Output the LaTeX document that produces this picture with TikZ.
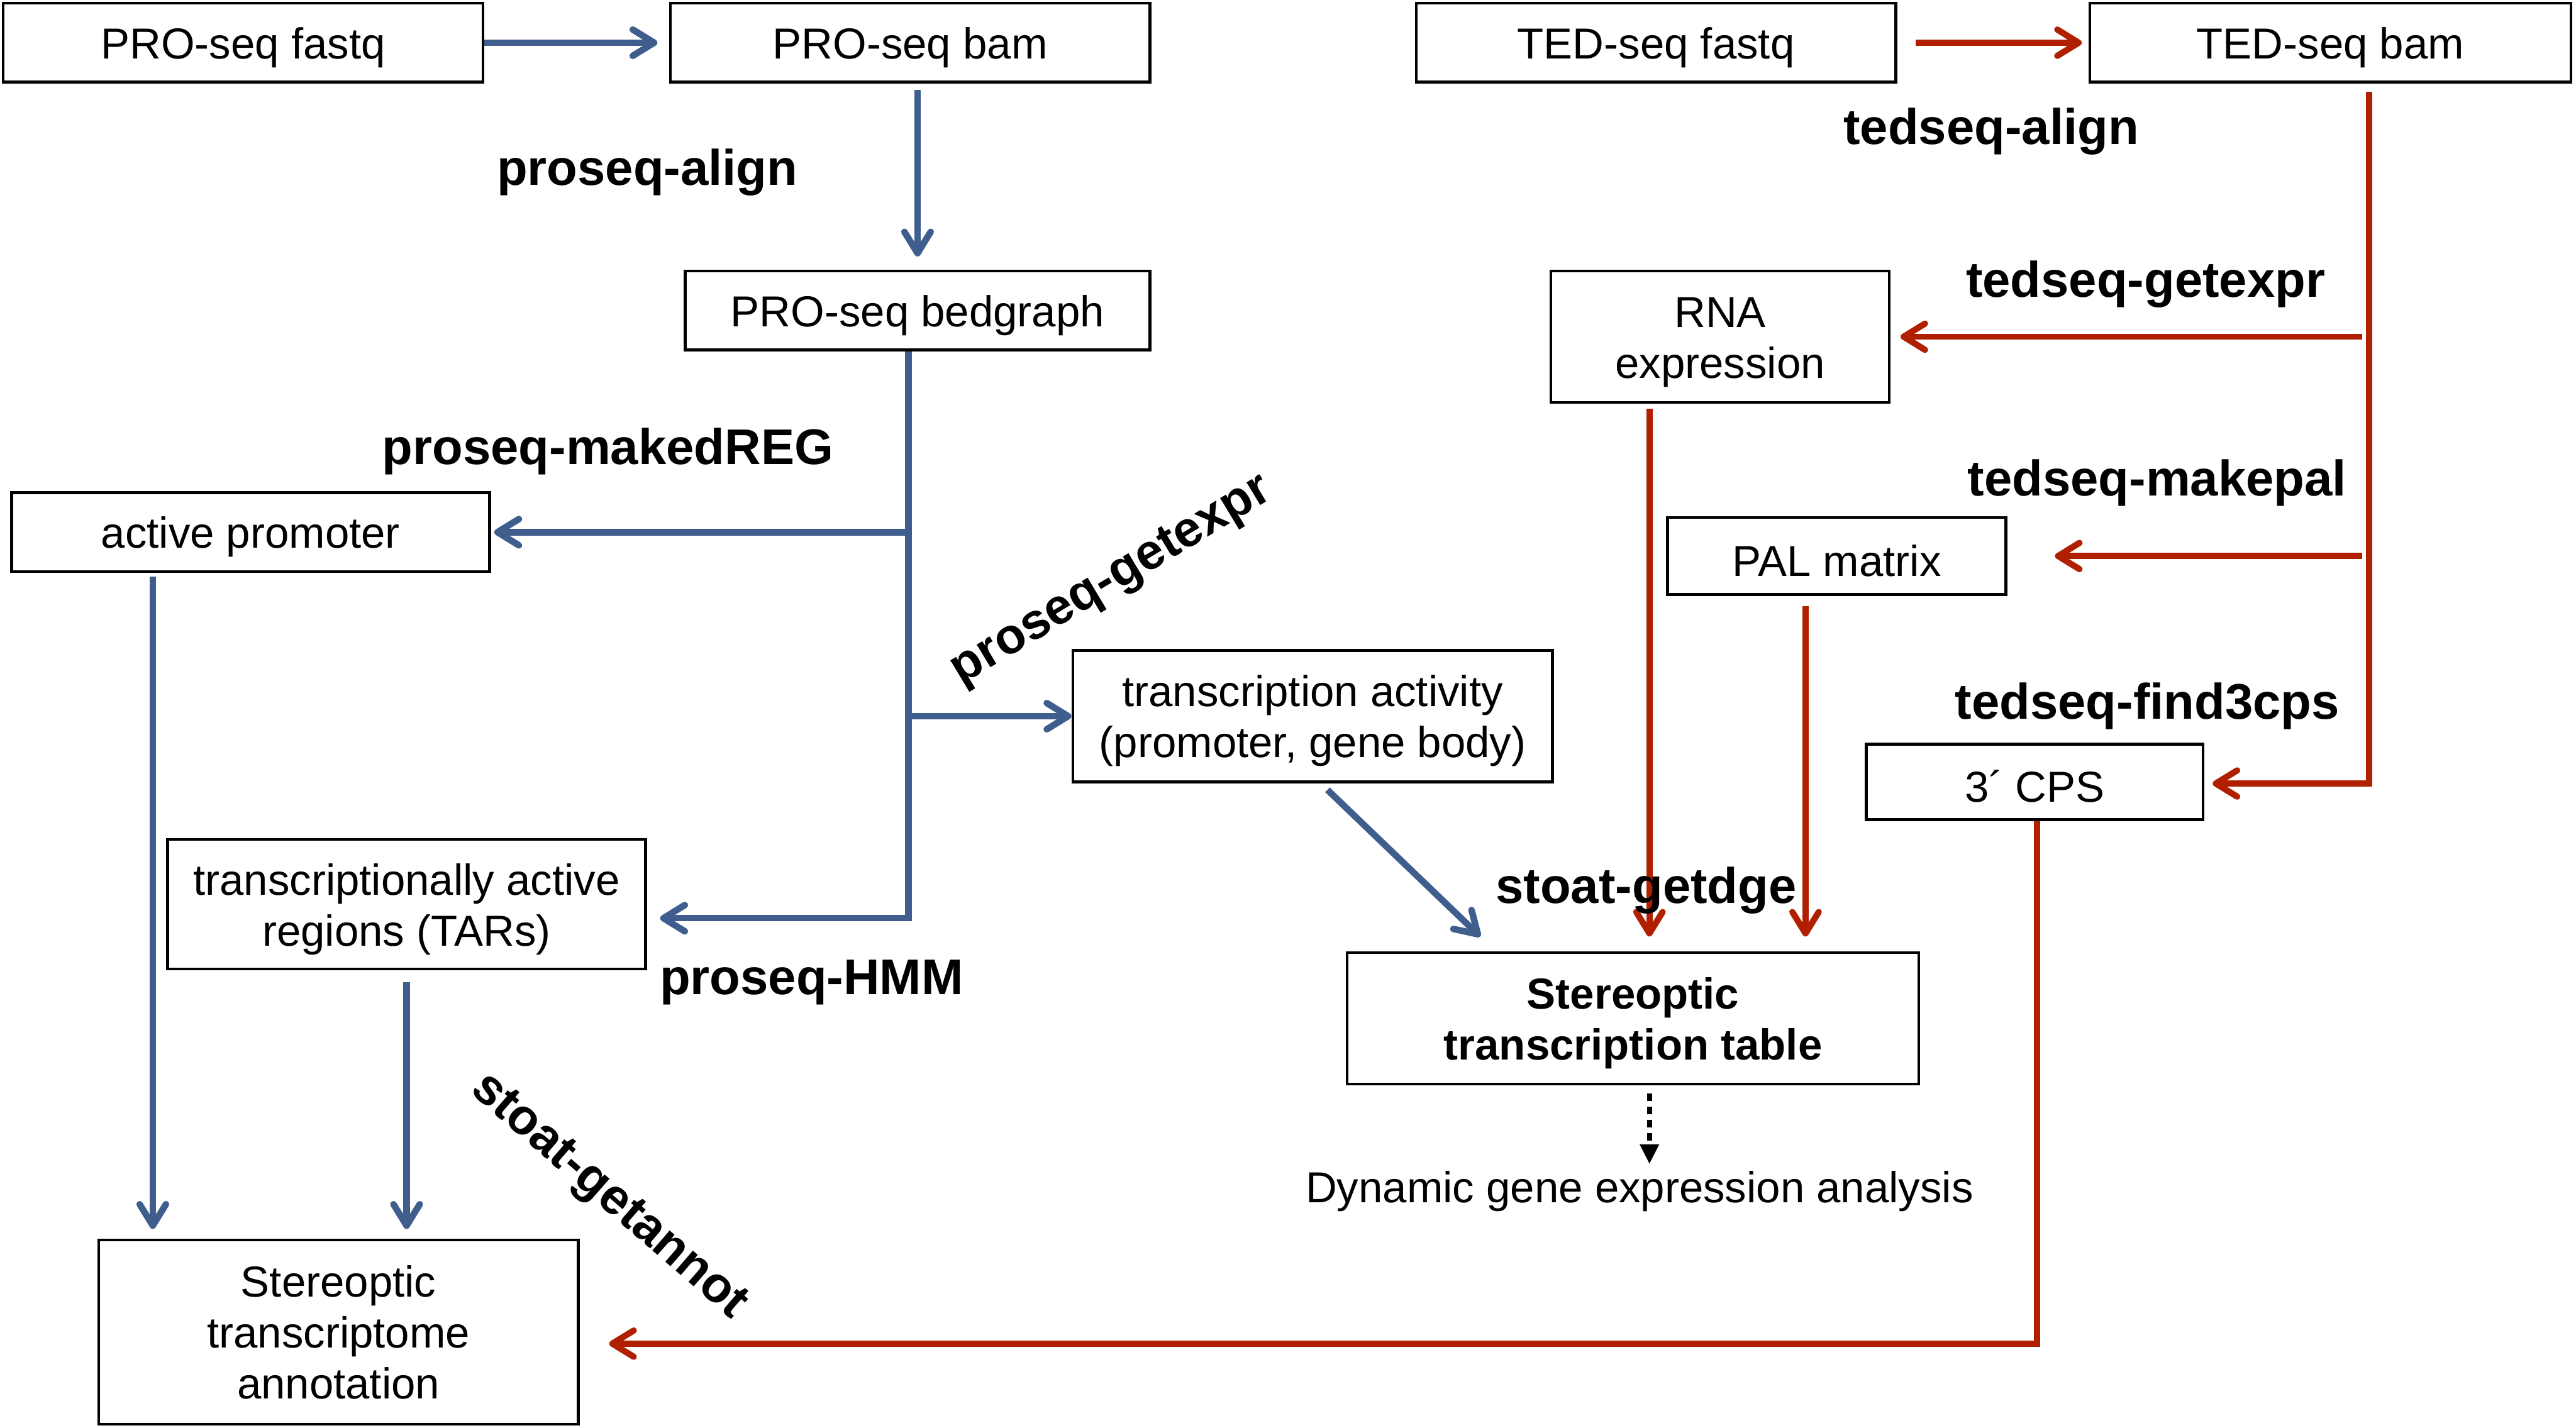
\documentclass[tikz,border=0pt]{standalone}
\usepackage{fontspec}
\setmainfont{Liberation Sans}
\usetikzlibrary{arrows.meta}

\definecolor{problue}{RGB}{63,94,141}
\definecolor{tedred}{RGB}{176,32,0}
\newcommand{\tallstrut}{\rule{0pt}{25pt}}

\begin{document}
\begin{tikzpicture}[x=1pt,y=-1pt,
  box/.style={draw,line width=1.7pt,inner sep=0pt,align=center,
    font=\fontsize{26.4}{31}\selectfont},
  tool/.style={inner sep=0pt,font=\fontsize{30.5}{34}\selectfont\bfseries},
  pro/.style={draw=problue,line width=4pt,
    -{Straight Barb[length=13pt,width=16pt,round]}},
  ted/.style={draw=tedred,line width=3.8pt,
    -{Straight Barb[length=13pt,width=16pt,round]}}]
\useasboundingbox (0,0) rectangle (1568,869);

% PRO-seq side
\node[box,minimum width=292,minimum height=48] (pfq) at (148,26) {\tallstrut PRO-seq fastq};
\node[box,minimum width=292,minimum height=48] (pbam) at (554,26) {\tallstrut PRO-seq bam};
\node[box,minimum width=283,minimum height=48] (pbed) at (558.5,189) {\tallstrut PRO-seq bedgraph};
\node[box,minimum width=291,minimum height=48] (prom) at (152.5,324) {\tallstrut active promoter};
\node[box,minimum width=292,minimum height=80] (act) at (799,436) {\tallstrut transcription activity\\(promoter, gene body)};
\node[box,minimum width=291,minimum height=79] (tar) at (247.5,550.5) {\tallstrut transcriptionally active\\regions (TARs)};
\node[box,minimum width=292,minimum height=112] (annot) at (206,811) {Stereoptic\\transcriptome\\annotation};

% TED-seq side
\node[box,minimum width=292,minimum height=48] (tfq) at (1008,26) {\tallstrut TED-seq fastq};
\node[box,minimum width=293,minimum height=48] (tbam) at (1418.5,26) {\tallstrut TED-seq bam};
\node[box,minimum width=206,minimum height=80] (rna) at (1047,205) {\tallstrut RNA\\expression};
\node[box,minimum width=206,minimum height=47] (pal) at (1118,338.5) {\tallstrut PAL matrix};
\node[box,minimum width=205,minimum height=46] (cps) at (1238.5,476) {\tallstrut 3´ CPS};
\node[box,minimum width=348,minimum height=80,
  font=\fontsize{26.4}{31}\selectfont\bfseries] (table) at (994,620) {\tallstrut Stereoptic\\transcription table};
\node[inner sep=0pt,anchor=base,font=\fontsize{26.4}{31}\selectfont] (dyn) at (998,732) {Dynamic gene expression analysis};

\coordinate (pbot) at (553,559);
\coordinate (tbot) at (1442,477);
\coordinate (cbot) at (1240,818);
\coordinate (dtop) at ([xshift=10pt]table.south);

% blue connectors
\draw[pro,shorten >=7pt] (pfq.east) -- (pbam.west);
\draw[pro,shorten <=4pt,shorten >=8pt] (pbed.north |- pbam.south) -- (pbed.north);
\draw[pro,shorten >=8pt] (pbed.south -| pbot) -- (pbot) -- (tar.east |- pbot);
\draw[pro,shorten >=2pt] (prom.east -| pbot) -- (prom.east);
\draw[pro] (act.west -| pbot) -- (act.west);
\draw[pro,shorten <=2pt,shorten >=6pt] ([xshift=-59.5pt]prom.south) -- ([xshift=-59.5pt]prom.south |- annot.north);
\draw[pro,shorten <=7pt,shorten >=6pt] (tar.south) -- (tar.south |- annot.north);
\draw[pro] ([xshift=9pt,yshift=-4pt]act.south) -- ([xshift=-93pt,yshift=9pt]table.north);

% red connectors
\draw[ted,shorten <=11pt,shorten >=4pt] (tfq.east) -- (tbam.west);
\draw[ted,shorten <=5pt,shorten >=5pt] (tbam.south -| tbot) -- (tbot) -- (cps.east |- tbot);
\draw[ted,shorten <=4pt,shorten >=6pt] (rna.east -| tbot) -- (rna.east);
\draw[ted,shorten <=4pt,shorten >=29pt] (pal.east -| tbot) -- (pal.east);
\draw[ted,shorten <=3pt,shorten >=9pt] ([xshift=-43pt]rna.south) -- ([xshift=-43pt]rna.south |- table.north);
\draw[ted,shorten <=6pt,shorten >=9pt] ([xshift=-19pt]pal.south) -- ([xshift=-19pt]pal.south |- table.north);
\draw[ted,shorten >=18pt] (cps.south -| cbot) -- (cbot) -- (annot.east |- cbot);

% dashed
\draw[line width=3pt,dash pattern=on 4.5pt off 3.5pt,shorten <=5pt,shorten >=4pt,
  -{Triangle[length=12pt,width=11pt]}] (dtop) -- (dtop |- dyn.north);

% tool labels
\node[tool] (lpalign) at (394,105) {proseq-align};
\node[tool] (lpdreg) at (370,275) {proseq-makedREG};
\node[tool,rotate=31] (lpexpr) at (677,354) {proseq-getexpr};
\node[tool] (lhmm) at (494,598) {proseq-HMM};
\node[tool,rotate=-41] (lannot) at (370,729) {stoat-getannot};
\node[tool] (ltalign) at (1212,80) {tedseq-align};
\node[tool] (ltexpr) at (1306,173) {tedseq-getexpr};
\node[tool] (ltpal) at (1313,294) {tedseq-makepal};
\node[tool] (ltcps) at (1307,430) {tedseq-find3cps};
\node[tool] (ldge) at (1002,542) {stoat-getdge};
\end{tikzpicture}
\end{document}
